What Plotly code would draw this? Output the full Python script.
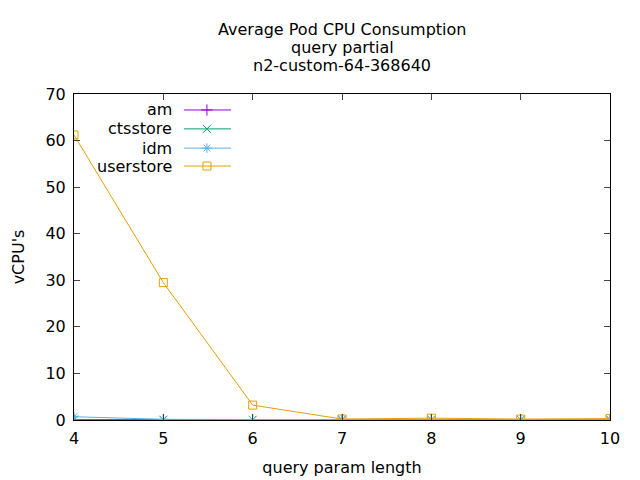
import plotly.graph_objects as go

x_vals = [4, 5, 6, 7, 8, 9, 10]
am = [0.05, 0.05, 0.05, 0.05, 0.05, 0.05, 0.05]
ctsstore = [0.1, 0.05, 0.05, 0.05, 0.05, 0.05, 0.05]
idm = [0.7, 0.15, 0.1, 0.1, 0.1, 0.1, 0.1]
userstore = [61.2, 29.5, 3.2, 0.2, 0.4, 0.2, 0.3]

names = ["am", "ctsstore", "idm", "userstore"]
series = [am, ctsstore, idm, userstore]
colors = ["#9400d3", "#009e73", "#56b4e9", "#e69f00"]
symbols = ["cross-thin-open", "x-thin-open", "asterisk-open", "square-open"]
title_lines = ["Average Pod CPU Consumption", "query partial", "n2-custom-64-368640"]

FONT = "DejaVu Sans"
FS = 16
W, H = 632, 472  # page body has an 8px margin
fig = go.Figure()
for n, s, c, sym in zip(names, series, colors, symbols):
    fig.add_trace(go.Scatter(x=x_vals, y=s, mode="lines+markers", name=n,
                             line=dict(color=c, width=1),
                             marker=dict(symbol=sym, size=8, color=c,
                                         line=dict(color=c, width=1)),
                             showlegend=False))

# manual gnuplot-style legend (text right, sample on the right)
leg_y = [0.951, 0.893, 0.834, 0.779]
lx0, lx1, lxm, ltx = 0.205, 0.293, 0.248, 0.187
for n, c, sym, ly in zip(names, colors, symbols, leg_y):
    fig.add_annotation(x=ltx, y=ly, xref="paper", yref="paper", text=n,
                       showarrow=False, xanchor="right", yanchor="middle",
                       font=dict(family=FONT, size=FS, color="black"))
    fig.add_shape(type="line", xref="paper", yref="paper", x0=lx0, x1=lx1,
                  y0=ly, y1=ly, line=dict(color=c, width=1))
    fig.add_trace(go.Scatter(x=[lxm], y=[ly], xaxis="x2", yaxis="y2",
                             mode="markers", showlegend=False, hoverinfo="skip",
                             marker=dict(symbol=sym, size=8, color=c,
                                         line=dict(color=c, width=1))))

# title lines (gnuplot spacing)
for i, t in enumerate(title_lines):
    fig.add_annotation(x=0.5, xref="paper", y=1 + (65 - 18 * i) / 326, yref="paper",
                       text=t, showarrow=False, xanchor="center", yanchor="middle",
                       height=18, font=dict(family=FONT, size=FS, color="black"))

fig.update_layout(
    width=W, height=H,
    margin=dict(l=66, r=30, t=86, b=60),
    paper_bgcolor="white", plot_bgcolor="white",
    font=dict(family=FONT, size=FS, color="black"),
    xaxis=dict(range=[4, 10], tickvals=x_vals, ticks="inside", ticklen=6,
               showline=True, mirror="ticks", linecolor="black", linewidth=1,
               showgrid=False, zeroline=False, automargin=False,
               ticklabelstandoff=4,
               title=dict(text="query param length", standoff=14,
                          font=dict(family=FONT, size=FS))),
    yaxis=dict(range=[0, 70], dtick=10, ticks="inside", ticklen=6,
               showline=True, mirror="ticks", linecolor="black", linewidth=1,
               showgrid=False, zeroline=False, automargin=False,
               ticklabelstandoff=4,
               title=dict(text="vCPU's", standoff=16,
                          font=dict(family=FONT, size=FS))),
    xaxis2=dict(range=[0, 1], overlaying="x", visible=False),
    yaxis2=dict(range=[0, 1], overlaying="y", visible=False),
)

fig.write_html("out.html")
